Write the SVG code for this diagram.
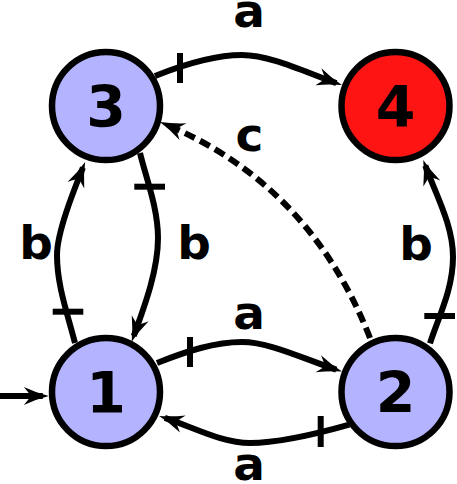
<svg xmlns="http://www.w3.org/2000/svg" width="457" height="484" viewBox="0 0 457 484">
<defs>
<style>
.node circle{stroke:#000;stroke-width:6.5}
.st{fill:#b3b3ff}
.acc{fill:#ff1414}
.nl{font-family:"DejaVu Sans",sans-serif;font-weight:bold;font-size:57px;text-anchor:middle;fill:#000}
.el{font-family:"DejaVu Sans",sans-serif;font-weight:bold;font-size:47px;text-anchor:middle;fill:#000}
.e{fill:none;stroke:#000;stroke-width:6;marker-end:url(#ah)}
.d{stroke-dasharray:11 6}
.tick{stroke:#000;stroke-width:6;fill:none}
</style>
<marker id="ah" markerUnits="userSpaceOnUse" orient="auto" refX="0" refY="0" markerWidth="30" markerHeight="20" overflow="visible">
<path d="M6,0 Q-6,-3 -19,-9 Q-13,-2 -12,0 Q-13,2 -19,9 Q-6,3 6,0 Z" fill="#000"/>
</marker>
</defs>
<g id="connectors">
<path id="e-init" class="e" d="M0,396 L42.8,396"/>
<path id="e-3-4" class="e" d="M155,76 C185,64 215,55 242,55 C270,55 305,72 336.3,83.1"/>
<path id="e-1-2" class="e" d="M157,363 C187,351 215,342 242,342 C270,342 305,359.5 336.3,369.6"/>
<path id="e-2-1" class="e" d="M349.3,424.7 C320,433 280,443 250,443 C222,443 195,428 164.8,417.9"/>
<path id="e-1-3" class="e" d="M75,343 C67,312 57,285 57,255 C57,232 74,190 82.9,167.6"/>
<path id="e-3-1" class="e" d="M140,153 C146,178 158,208 158,238 C158,270 145,305 133.7,336.1"/>
<path id="e-2-4" class="e" d="M430,343.3 C438,318 453,290 453,257 C453,225 436,195 425.3,165.6"/>
<path id="e-2-3" class="e d" d="M370,338 Q310,185 165.5,124.3"/>
<line class="tick" x1="180" y1="53" x2="180" y2="83"/>
<line class="tick" x1="190" y1="337" x2="190" y2="367"/>
<line class="tick" x1="320.7" y1="416" x2="320.7" y2="447"/>
<line class="tick" x1="52.7" y1="311.7" x2="83.3" y2="311.7"/>
<line class="tick" x1="134.3" y1="186.7" x2="165" y2="186.7"/>
<line class="tick" x1="424.3" y1="316" x2="455" y2="316"/>
<text class="el" x="249" y="27">a</text>
<text class="el" x="249" y="328.5">a</text>
<text class="el" x="249" y="480">a</text>
<text class="el" x="249.5" y="151">c</text>
<text class="el" x="36" y="259">b</text>
<text class="el" x="194" y="259">b</text>
<text class="el" x="416" y="259.5">b</text>
</g>
<g id="node-3" class="node"><circle class="st" cx="106" cy="106" r="54"/><text class="nl" x="106" y="127">3</text></g>
<g id="node-4" class="node"><circle class="acc" cx="395.5" cy="106" r="54"/><text class="nl" x="395.5" y="127">4</text></g>
<g id="node-1" class="node"><circle class="st" cx="106" cy="392" r="54"/><text class="nl" x="106" y="413">1</text></g>
<g id="node-2" class="node"><circle class="st" cx="395.5" cy="392" r="54"/><text class="nl" x="395.5" y="413">2</text></g>
</svg>
